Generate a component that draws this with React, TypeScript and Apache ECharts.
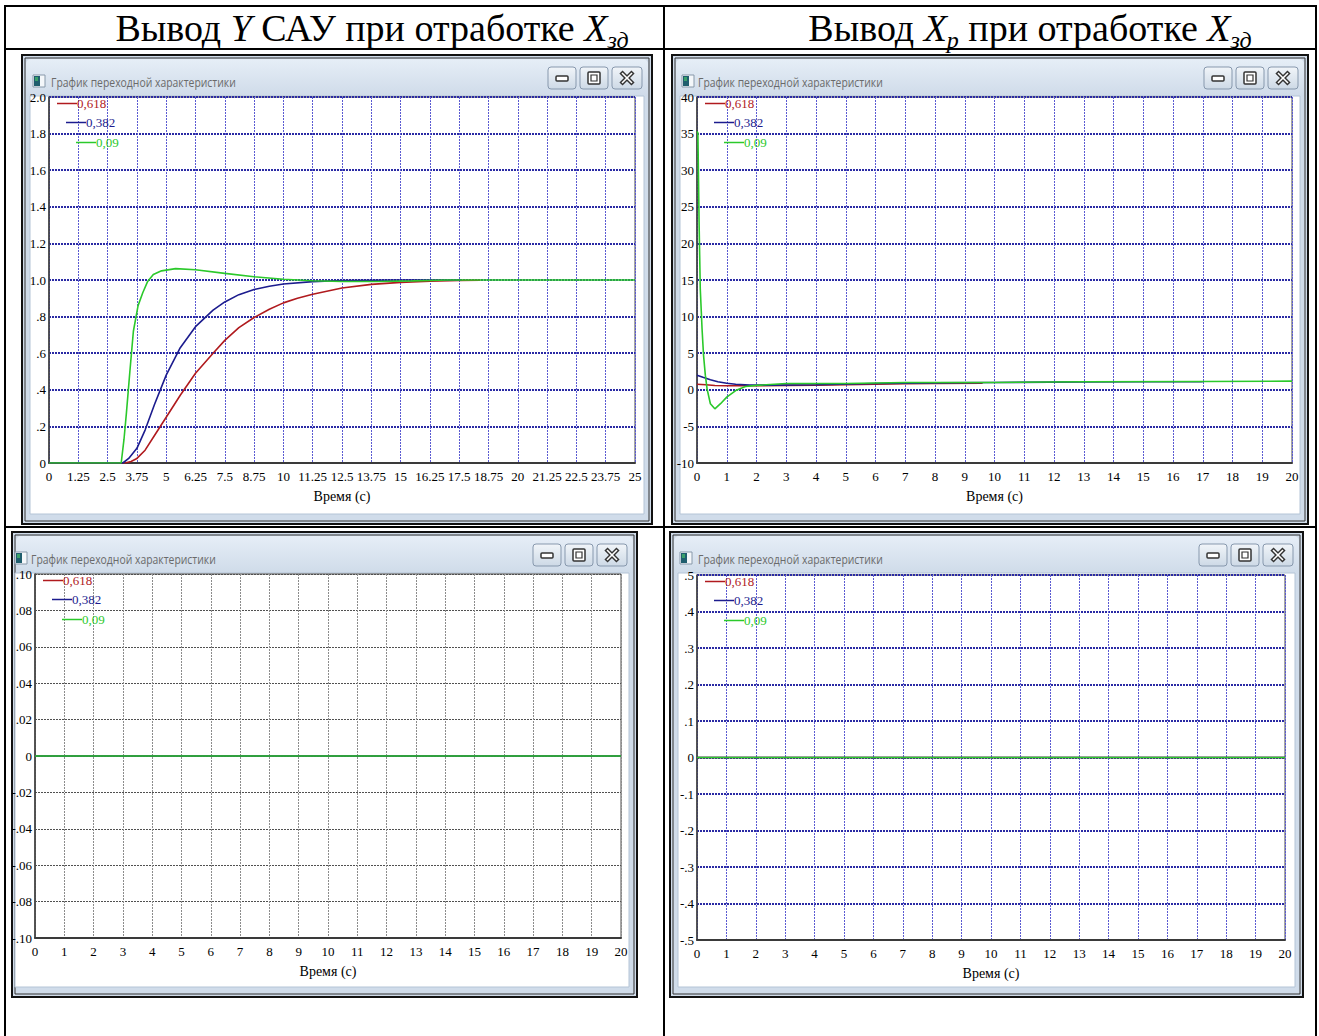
import React, { useEffect, useRef } from 'react';
import * as echarts from 'echarts';

// ---------- DATA ----------
const seriesNames = ['0,618', '0,382', '0,09'];
const seriesColors = ['#b01a1e', '#1c1c8e', '#2bc92b'];

const windowTitle = 'График переходной характеристики';
const xAxisTitle = 'Время (с)';

// Chart 1: output Y
const yTime618 = [0, 3.25, 3.5, 3.75, 4.1, 4.5, 5, 5.6, 6.25, 7, 7.5, 8.1, 8.75, 9.4, 10, 10.6, 11.25, 12.5, 13.75, 15, 16.25, 17.5, 18.4];
const yVal618 = [0, 0, 0.008, 0.025, 0.07, 0.15, 0.25, 0.37, 0.49, 0.6, 0.67, 0.74, 0.795, 0.84, 0.875, 0.9, 0.922, 0.956, 0.976, 0.987, 0.993, 0.997, 0.999];
const yTime382 = [0, 3.15, 3.4, 3.75, 4.1, 4.5, 5, 5.6, 6.25, 7, 7.5, 8.1, 8.75, 9.4, 10, 11.25, 12.5, 13.75, 15, 16.25, 17.6];
const yVal382 = [0, 0, 0.025, 0.08, 0.18, 0.32, 0.48, 0.63, 0.745, 0.835, 0.88, 0.92, 0.948, 0.966, 0.978, 0.991, 0.997, 0.999, 1, 1, 1];
const yTime09 = [0, 3.08, 3.2, 3.3, 3.45, 3.6, 3.8, 4.0, 4.2, 4.45, 4.8, 5.4, 6.25, 7.5, 8.75, 10, 11.25, 12.5, 14, 15.5, 17, 25];
const yVal09 = [0, 0, 0.13, 0.27, 0.5, 0.72, 0.86, 0.93, 0.99, 1.03, 1.05, 1.062, 1.056, 1.036, 1.018, 1.004, 0.996, 0.992, 0.992, 0.995, 1, 1];

// Chart 2: output Xp
const xpTime618 = [0, 0.3, 0.6, 1.0, 1.5, 2, 3, 4, 5, 6, 7, 8, 9.6];
const xpVal618 = [0.75, 0.68, 0.58, 0.55, 0.55, 0.56, 0.6, 0.64, 0.7, 0.77, 0.82, 0.86, 0.9];
const xpTime382 = [0, 0.2, 0.45, 0.7, 1.0, 1.3, 1.77, 2.5, 4, 6, 8, 10, 13, 15, 17];
const xpVal382 = [2.0, 1.7, 1.36, 1.1, 0.9, 0.76, 0.64, 0.64, 0.7, 0.86, 0.95, 1.0, 1.08, 1.1, 1.1];
const xpTime09 = [0, 0.03, 0.07, 0.11, 0.17, 0.22, 0.28, 0.34, 0.45, 0.6, 0.79, 1.0, 1.3, 1.63, 2.0, 3, 5, 7, 10, 13, 17, 20];
const xpVal09 = [35.3, 35.1, 22.9, 13.8, 8.3, 4.7, 2.0, 0.1, -1.9, -2.6, -1.9, -1.0, -0.1, 0.45, 0.6, 0.86, 0.86, 1.0, 1.0, 1.1, 1.14, 1.18];

// Chart 3 and 4: flat zero responses
const c3Time = [0, 20];
const c3Val618 = [0, 0];
const c3Val382 = [0, 0];
const c3Val09 = [0, 0];
const c4Time = [0, 20];
const c4Val618 = [0, 0];
const c4Val382 = [0, 0];
const c4Val09 = [0, 0];

// ---------- HELPERS ----------
const zip = (t: number[], v: number[]) => t.map((x, i) => [x, v[i]]);

const fmt1 = (v: number) => {
  if (Math.abs(v) < 1e-9) return '0';
  if (Math.abs(v) < 1) return (v < 0 ? '-' : '') + Math.abs(v).toFixed(1).slice(1);
  return v.toFixed(1);
};
const fmt2 = (v: number) => {
  if (Math.abs(v) < 1e-9) return '0';
  return (v < 0 ? '-' : '') + Math.abs(v).toFixed(2).slice(1);
};

const SERIF = '"Liberation Serif", "Times New Roman", serif';

type Frame = { fx: number; fy: number; fw: number; fh: number; iconDx: number; textDx: number };

function windowGraphics(f: Frame) {
  const { fx, fy, fw, fh, iconDx, textDx } = f;
  const els: any[] = [];
  els.push({ type: 'rect', z: -10, shape: { x: fx, y: fy, width: fw, height: fh }, style: { fill: '#d0dcea', stroke: '#111', lineWidth: 2 } });
  els.push({ type: 'rect', z: -10, shape: { x: fx + 3, y: fy + 3, width: fw - 6, height: fh - 6 }, style: { fill: 'none', stroke: '#333', lineWidth: 1 } });
  els.push({
    type: 'rect', z: -10,
    shape: { x: fx + 4, y: fy + 4, width: fw - 8, height: 37, r: [5, 5, 0, 0] },
    style: { fill: new echarts.graphic.LinearGradient(0, 0, 0, 1, [{ offset: 0, color: '#e6eef7' }, { offset: 1, color: '#cfdbe9' }]) },
  });
  els.push({ type: 'rect', z: -10, shape: { x: fx + Math.min(iconDx, 8), y: fy + 41, width: fw - Math.min(iconDx, 8) - 8, height: fh - 51 }, style: { fill: '#ffffff', stroke: '#b4c4d6', lineWidth: 1 } });
  // icon
  els.push({ type: 'rect', z: -10, shape: { x: fx + iconDx, y: fy + 20, width: 12, height: 12 }, style: { fill: '#f4f7fa', stroke: '#8899aa', lineWidth: 1 } });
  els.push({ type: 'rect', z: -10, shape: { x: fx + iconDx + 1, y: fy + 21, width: 6, height: 10 }, style: { fill: '#1f5e6e' } });
  els.push({ type: 'rect', z: -10, shape: { x: fx + iconDx + 2, y: fy + 22, width: 3, height: 4 }, style: { fill: '#3aa06a' } });
  // title
  els.push({
    type: 'text', z: -9, x: fx + textDx, y: fy + 26, scaleX: 0.8,
    style: { text: windowTitle, fill: '#6a6a6a', font: '13px "Open Sans", sans-serif', verticalAlign: 'middle' },
  });
  // buttons
  const by = fy + 12, bh = 22;
  const btns = [
    { x: fx + fw - 104, w: 28 },
    { x: fx + fw - 72, w: 28 },
    { x: fx + fw - 40, w: 30 },
  ];
  btns.forEach((b) => {
    els.push({
      type: 'rect', z: -10,
      shape: { x: b.x, y: by, width: b.w, height: bh, r: 3 },
      style: { fill: new echarts.graphic.LinearGradient(0, 0, 0, 1, [{ offset: 0, color: '#f1f5f9' }, { offset: 1, color: '#cdd9e6' }]), stroke: '#8798ad', lineWidth: 1 },
    });
  });
  const cy = by + bh / 2;
  const mx = btns[0].x + btns[0].w / 2;
  els.push({ type: 'rect', z: -9, shape: { x: mx - 6, y: cy - 2, width: 12, height: 5, r: 1 }, style: { fill: '#fff', stroke: '#333', lineWidth: 1.5 } });
  const xx = btns[1].x + btns[1].w / 2;
  els.push({ type: 'rect', z: -9, shape: { x: xx - 6, y: cy - 6, width: 12, height: 12, r: 1 }, style: { fill: '#fff', stroke: '#333', lineWidth: 1.5 } });
  els.push({ type: 'rect', z: -9, shape: { x: xx - 3, y: cy - 3, width: 6, height: 6 }, style: { fill: 'none', stroke: '#333', lineWidth: 1.2 } });
  const cx = btns[2].x + btns[2].w / 2;
  els.push({ type: 'line', z: -9, shape: { x1: cx - 6, y1: cy - 6, x2: cx + 6, y2: cy + 6 }, style: { stroke: '#333', lineWidth: 4.5 } });
  els.push({ type: 'line', z: -9, shape: { x1: cx + 6, y1: cy - 6, x2: cx - 6, y2: cy + 6 }, style: { stroke: '#333', lineWidth: 4.5 } });
  els.push({ type: 'line', z: -8, shape: { x1: cx - 5, y1: cy - 5, x2: cx + 5, y2: cy + 5 }, style: { stroke: '#fff', lineWidth: 1.6 } });
  els.push({ type: 'line', z: -8, shape: { x1: cx + 5, y1: cy - 5, x2: cx - 5, y2: cy + 5 }, style: { stroke: '#fff', lineWidth: 1.6 } });
  return els;
}

const frames: Frame[] = [
  { fx: 22, fy: 55, fw: 630, fh: 469, iconDx: 11, textDx: 29 },
  { fx: 672, fy: 55, fw: 636, fh: 469, iconDx: 10, textDx: 26 },
  { fx: 12, fy: 532, fw: 625, fh: 465, iconDx: 3, textDx: 19 },
  { fx: 670, fy: 532, fw: 633, fh: 465, iconDx: 10, textDx: 28 },
];

const grids = [
  { left: 49, top: 97, width: 586, height: 366 },
  { left: 697, top: 97, width: 595, height: 366 },
  { left: 35, top: 574, width: 586, height: 364 },
  { left: 697, top: 575, width: 588, height: 365 },
];

const blueV = { color: '#5b5bd2', width: 1, type: [2, 1] };
const blueH = { color: '#2a2aa4', width: 2, type: [2, 1] };
const grayV = { color: '#8c8c8c', width: 1, type: [2, 1] };
const grayH = { color: '#505050', width: 1, type: [2, 1] };

const axisCfg = [
  { xmin: 0, xmax: 25, xint: 1.25, ymin: 0, ymax: 2, yint: 0.2, yfmt: fmt1, v: blueV, h: blueH },
  { xmin: 0, xmax: 20, xint: 1, ymin: -10, ymax: 40, yint: 5, yfmt: (v: number) => String(v), v: blueV, h: blueH },
  { xmin: 0, xmax: 20, xint: 1, ymin: -0.1, ymax: 0.1, yint: 0.02, yfmt: fmt2, v: grayV, h: grayH },
  { xmin: 0, xmax: 20, xint: 1, ymin: -0.5, ymax: 0.5, yint: 0.1, yfmt: fmt1, v: blueV, h: blueH },
];

const chartData = [
  [zip(yTime618, yVal618), zip(yTime382, yVal382), zip(yTime09, yVal09)],
  [zip(xpTime618, xpVal618), zip(xpTime382, xpVal382), zip(xpTime09, xpVal09)],
  [zip(c3Time, c3Val618), zip(c3Time, c3Val382), zip(c3Time, c3Val09)],
  [zip(c4Time, c4Val618), zip(c4Time, c4Val382), zip(c4Time, c4Val09)],
];

function buildOption() {
  const graphics: any[] = [];
  const L = (x1: number, y1: number, x2: number, y2: number) =>
    graphics.push({ type: 'line', z: -5, shape: { x1, y1, x2, y2 }, style: { stroke: '#000', lineWidth: 2 } });
  L(4, 6, 1317, 6);
  L(4, 49, 1317, 49);
  L(4, 527, 1317, 527);
  L(5, 6, 5, 1036);
  L(664, 6, 664, 1036);
  L(1316, 6, 1316, 1036);

  const rich = {
    n: { fontSize: 38, fontFamily: SERIF, lineHeight: 48, fill: '#000' },
    i: { fontSize: 38, fontFamily: SERIF, fontStyle: 'italic', lineHeight: 48, fill: '#000' },
    s: { fontSize: 24, fontFamily: SERIF, fontStyle: 'italic', lineHeight: 30, verticalAlign: 'bottom', fill: '#000' },
  };
  graphics.push({
    type: 'text', z: 5, x: 372, y: 28,
    style: { text: '{n|Вывод }{i|Y}{n| САУ при отработке }{i|X}{s|зд}', rich, align: 'center', verticalAlign: 'middle' },
  });
  graphics.push({
    type: 'text', z: 5, x: 1030, y: 28,
    style: { text: '{n|Вывод }{i|X}{s|p}{n| при отработке }{i|X}{s|зд}', rich, align: 'center', verticalAlign: 'middle' },
  });

  frames.forEach((f) => graphics.push(...windowGraphics(f)));

  const xAxis: any[] = [];
  const yAxis: any[] = [];
  const series: any[] = [];
  const legend: any[] = [];

  grids.forEach((g, gi) => {
    const a = axisCfg[gi];
    xAxis.push({
      type: 'value', gridIndex: gi, min: a.xmin, max: a.xmax, interval: a.xint,
      name: xAxisTitle, nameLocation: 'middle', nameGap: 26,
      nameTextStyle: { fontFamily: SERIF, fontSize: 14, color: '#000' },
      axisLine: { show: true, onZero: false, lineStyle: { color: '#3a3a3a', width: 2 } },
      axisTick: { show: false },
      axisLabel: { fontFamily: SERIF, fontSize: 13, color: '#000', margin: 7, showMinLabel: true, showMaxLabel: true },
      splitLine: { show: true, lineStyle: a.v },
    });
    yAxis.push({
      type: 'value', gridIndex: gi, min: a.ymin, max: a.ymax, interval: a.yint,
      axisLine: { show: true, onZero: false, lineStyle: { color: '#3a3a3a', width: 1.5 } },
      axisTick: { show: false },
      axisLabel: { fontFamily: SERIF, fontSize: 13, color: '#000', margin: 3, formatter: a.yfmt, showMinLabel: true, showMaxLabel: true },
      splitLine: { show: true, lineStyle: a.h },
    });
    chartData[gi].forEach((d, si) => {
      series.push({
        type: 'line', name: seriesNames[si], xAxisIndex: gi, yAxisIndex: gi,
        data: d, showSymbol: false, symbol: 'none',
        lineStyle: { color: seriesColors[si], width: 1.6 },
        itemStyle: { color: seriesColors[si] },
        z: 3 + si,
      });
      const dx = [8, 17, 27][si];
      const dy = [0, 19, 39][si];
      legend.push({
        show: true, left: g.left + dx, top: g.top + dy, padding: 0,
        data: [seriesNames[si]], icon: 'rect', itemWidth: 20, itemHeight: 1.5,
        selectedMode: false,
        textStyle: { color: seriesColors[si], fontFamily: SERIF, fontSize: 13, padding: [0, 0, 0, -5] },
      });
    });
  });

  return {
    animation: false,
    backgroundColor: '#ffffff',
    grid: grids.map((g) => ({ ...g, show: true, backgroundColor: '#ffffff', borderColor: '#4a4a4a', borderWidth: 1 })),
    xAxis, yAxis, series, legend,
    graphic: { elements: graphics },
  };
}

export default function App() {
  const ref = useRef<HTMLDivElement>(null);
  useEffect(() => {
    if (!ref.current) return;
    const chart = echarts.init(ref.current, null, { renderer: 'svg' });
    chart.setOption(buildOption() as any);
    return () => chart.dispose();
  }, []);
  return <div ref={ref} style={{ position: 'absolute', left: 0, top: 0, width: 1319, height: 1036, background: '#fff' }} />;
}
